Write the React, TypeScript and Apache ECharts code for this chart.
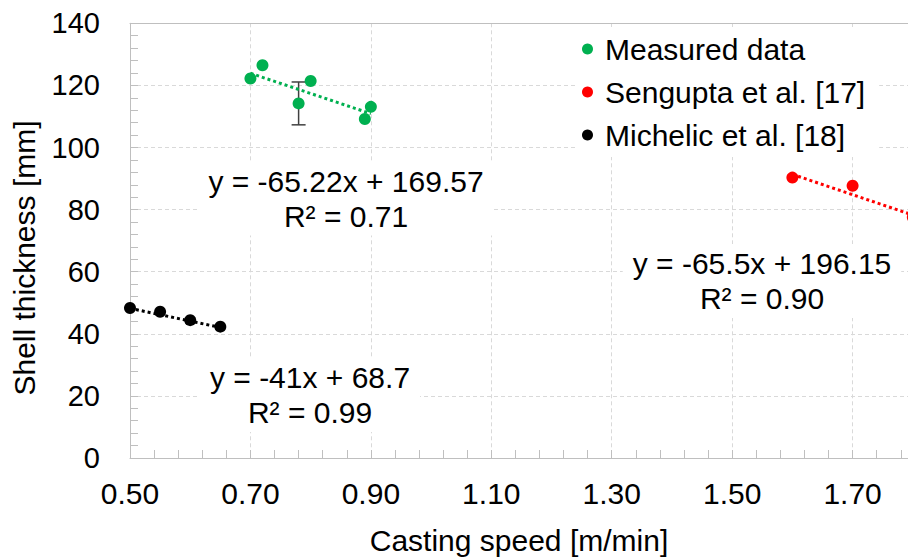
import React, { useEffect, useRef } from 'react';
import * as echarts from 'echarts';

const seriesNames = ['Measured data', 'Sengupta et al. [17]', 'Michelic et al. [18]'];
const seriesColors = ['#00B050', '#FF0000', '#000000'];

const measuredX = [0.70, 0.72, 0.78, 0.80, 0.89, 0.90];
const measuredY = [122.2, 126.5, 114.2, 121.4, 109.2, 113.1];
const errX = [0.78];
const errLow = [107.3];
const errHigh = [121.1];

const senguptaX = [1.60, 1.70, 1.80];
const senguptaY = [90.3, 87.7, 77.5];

const michelicX = [0.50, 0.55, 0.60, 0.65];
const michelicY = [48.3, 47.1, 44.4, 42.3];

const measuredTrendX = [0.70, 0.90];
const measuredTrendY = [123.9, 110.9];
const senguptaTrendX = [1.60, 1.80];
const senguptaTrendY = [91.35, 78.25];
const michelicTrendX = [0.50, 0.65];
const michelicTrendY = [48.2, 42.05];

const xMajorTicks = [0.50, 0.70, 0.90, 1.10, 1.30, 1.50, 1.70];
const xMin = 0.5;
const xMax = 1.792;
const xMinorStep = 0.04;
const yMin = 0;
const yMax = 140;
const yInterval = 20;

const equationTexts = [
  'y = -65.22x + 169.57\nR² = 0.71',
  'y = -65.5x + 196.15\nR² = 0.90',
  'y = -41x + 68.7\nR² = 0.99',
];

const xAxisName = 'Casting speed [m/min]';
const yAxisName = 'Shell thickness [mm]';

const FONT = '"Liberation Sans", Arial, sans-serif';

const zip = (xs: number[], ys: number[]) => xs.map((x, i) => [x, ys[i]]);

export default function App() {
  const ref = useRef<HTMLDivElement>(null);

  useEffect(() => {
    if (!ref.current) return;
    const chart = echarts.init(ref.current, null, { renderer: 'svg' });

    const xMinor: number[] = [];
    for (let k = 0; ; k++) {
      const v = +(xMin + k * xMinorStep).toFixed(4);
      if (v > xMax + 1e-9) break;
      xMinor.push(v);
    }

    const gridColor = '#d9d9d9';
    const axisColor = '#bfbfbf';

    const eqStyle = (text: string, x: number, y: number) => ({
      type: 'text',
      z: 100,
      x,
      y,
      style: {
        text,
        fill: '#000',
        fontSize: 30,
        fontFamily: FONT,
        align: 'center',
        verticalAlign: 'middle',
        lineHeight: 35,
        backgroundColor: '#fff',
        padding: [2, 10],
      },
    });

    const option: any = {
      animation: false,
      backgroundColor: '#fff',
      grid: { left: 130, right: 0, top: 23.3, bottom: 97.3 },
      legend: {
        orient: 'vertical',
        left: 576,
        top: 27,
        padding: [6, 14, 6, 6],
        backgroundColor: '#fff',
        itemWidth: 25,
        itemHeight: 11,
        itemGap: 11,
        icon: 'circle',
        textStyle: { fontSize: 30, lineHeight: 32, color: '#000', fontFamily: FONT },
        data: seriesNames,
        z: 50,
      },
      xAxis: [
        {
          type: 'value',
          position: 'bottom',
          min: xMin,
          max: xMax,
          name: xAxisName,
          nameLocation: 'middle',
          nameGap: 67,
          nameTextStyle: { fontSize: 30, color: '#000', fontFamily: FONT },
          axisLine: { show: true, lineStyle: { color: axisColor, width: 1 } },
          axisTick: { show: true, inside: true, length: 8, customValues: xMajorTicks, lineStyle: { color: axisColor } },
          axisLabel: {
            customValues: xMajorTicks,
            margin: 20,
            fontSize: 30,
            color: '#000',
            fontFamily: FONT,
            formatter: (v: number) => v.toFixed(2),
          },
          splitLine: { show: true, lineStyle: { color: gridColor, type: [4, 3], width: 1 } },
        },
        {
          type: 'value',
          position: 'bottom',
          min: xMin,
          max: xMax,
          axisLine: { show: false },
          axisTick: { show: true, inside: true, length: 8, customValues: xMinor, lineStyle: { color: axisColor } },
          axisLabel: { show: false },
          splitLine: { show: false },
        },
        {
          type: 'value',
          position: 'top',
          min: xMin,
          max: xMax,
          axisLine: { show: true, lineStyle: { color: axisColor, width: 1 } },
          axisTick: { show: false },
          axisLabel: { show: false },
          splitLine: { show: false },
        },
      ],
      yAxis: {
        type: 'value',
        min: yMin,
        max: yMax,
        interval: yInterval,
        axisLine: { show: true, lineStyle: { color: axisColor, width: 1 } },
        axisTick: { show: true, inside: true, length: 8, lineStyle: { color: axisColor } },
        minorTick: { show: true, splitNumber: 5, length: 8, lineStyle: { color: axisColor } },
        axisLabel: { margin: 30, fontSize: 29, color: '#000', fontFamily: FONT },
        splitLine: { show: true, lineStyle: { color: gridColor, type: [4, 3], width: 1 } },
      },
      graphic: [
        {
          type: 'text',
          x: 24,
          y: 258,
          rotation: Math.PI / 2,
          z: 100,
          style: {
            text: yAxisName,
            fill: '#000',
            fontSize: 30,
            fontFamily: FONT,
            align: 'center',
            verticalAlign: 'middle',
          },
        },
        eqStyle(equationTexts[0], 346, 198.5),
        eqStyle(equationTexts[1], 762, 281),
        eqStyle(equationTexts[2], 310, 395),
      ],
      series: [
        {
          type: 'custom',
          name: 'err',
          xAxisIndex: 0,
          z: 1,
          encode: { x: 0, y: [1, 2] },
          data: errX.map((x, i) => [x, errLow[i], errHigh[i]]),
          renderItem: (params: any, api: any) => {
            const lo = api.coord([api.value(0), api.value(1)]);
            const hi = api.coord([api.value(0), api.value(2)]);
            const w = 7;
            const st = { stroke: '#404040', lineWidth: 1.5 };
            return {
              type: 'group',
              children: [
                { type: 'line', shape: { x1: lo[0], y1: lo[1], x2: hi[0], y2: hi[1] }, style: st },
                { type: 'line', shape: { x1: lo[0] - w, y1: lo[1], x2: lo[0] + w, y2: lo[1] }, style: st },
                { type: 'line', shape: { x1: hi[0] - w, y1: hi[1], x2: hi[0] + w, y2: hi[1] }, style: st },
              ],
            };
          },
        },
        {
          type: 'line',
          name: 'trend-measured',
          xAxisIndex: 0,
          z: 1,
          showSymbol: false,
          data: zip(measuredTrendX, measuredTrendY),
          lineStyle: { type: 'dotted', width: 3, color: seriesColors[0] },
        },
        {
          type: 'line',
          name: 'trend-sengupta',
          xAxisIndex: 0,
          z: 1,
          showSymbol: false,
          data: zip(senguptaTrendX, senguptaTrendY),
          lineStyle: { type: 'dotted', width: 3, color: seriesColors[1] },
        },
        {
          type: 'line',
          name: 'trend-michelic',
          xAxisIndex: 0,
          z: 1,
          showSymbol: false,
          data: zip(michelicTrendX, michelicTrendY),
          lineStyle: { type: 'dotted', width: 3, color: seriesColors[2] },
        },
        {
          type: 'scatter',
          name: seriesNames[0],
          xAxisIndex: 0,
          symbolSize: 12,
          clip: false,
          itemStyle: { color: seriesColors[0], opacity: 1 },
          data: zip(measuredX, measuredY),
        },
        {
          type: 'scatter',
          name: seriesNames[1],
          xAxisIndex: 0,
          symbolSize: 12,
          clip: false,
          itemStyle: { color: seriesColors[1], opacity: 1 },
          data: zip(senguptaX, senguptaY),
        },
        {
          type: 'scatter',
          name: seriesNames[2],
          xAxisIndex: 0,
          symbolSize: 12,
          clip: false,
          itemStyle: { color: seriesColors[2], opacity: 1 },
          data: zip(michelicX, michelicY),
        },
      ],
    };

    chart.setOption(option);
    return () => chart.dispose();
  }, []);

  return (
    <div
      ref={ref}
      style={{ position: 'fixed', left: 0, top: 0, width: 908, height: 560, background: '#fff' }}
    />
  );
}
